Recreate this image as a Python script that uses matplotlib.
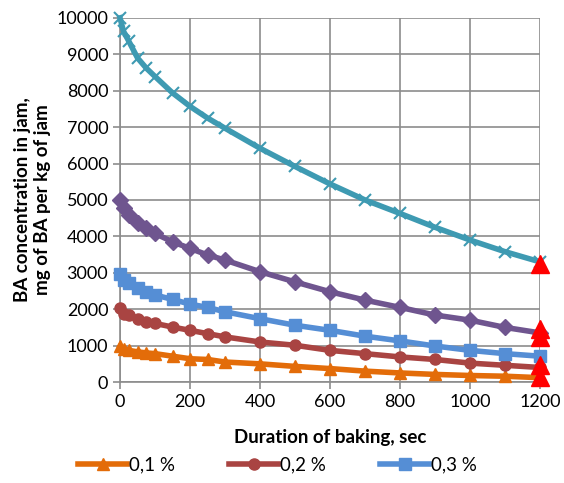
import matplotlib.pyplot as plt

# Baking time, sec
time_sec = [0, 10, 25, 50, 75, 100, 150, 200, 250, 300, 400, 500,
            600, 700, 800, 900, 1000, 1100, 1200]

# BA concentration, mg per kg of jam
conc_01 = [980, 920, 870, 830, 800, 780, 710, 640, 620, 550, 500, 430,
           370, 300, 250, 210, 180, 160, 120]
conc_02 = [2020, 1880, 1840, 1740, 1650, 1610, 1510, 1420, 1330, 1240, 1100, 1010,
           870, 780, 690, 620, 520, 460, 400]
conc_03 = [2980, 2800, 2710, 2570, 2480, 2390, 2270, 2140, 2050, 1930, 1740, 1560,
           1420, 1260, 1130, 990, 870, 780, 710]
conc_05 = [5000, 4770, 4590, 4360, 4220, 4080, 3850, 3670, 3490, 3350, 3030, 2750,
           2480, 2250, 2050, 1840, 1700, 1500, 1350]
conc_10 = [10000, 9630, 9360, 8900, 8620, 8390, 7940, 7570, 7250, 6970, 6420, 5920,
           5440, 5000, 4630, 4250, 3900, 3580, 3300]

# red triangles at the end of baking
end_time = [1200, 1200, 1200, 1200, 1200]
end_conc = [3250, 1450, 1250, 480, 140]

legend_labels = ['0,1 %', '0,2 %', '0,3 %']

plt.rcParams['font.family'] = ['Lato', 'DejaVu Sans']

fig = plt.figure(figsize=(5.64, 4.83), dpi=100)
ax = fig.add_axes([0.2128, 0.209, 0.7446, 0.754])

lw = 4
ax.plot(time_sec, conc_01, color='#E36C09', lw=lw, marker='^', ms=8,
        label=legend_labels[0], clip_on=False, zorder=3)
ax.plot(time_sec, conc_02, color='#A94442', lw=lw, marker='o', ms=8,
        label=legend_labels[1], clip_on=False, zorder=3)
ax.plot(time_sec, conc_03, color='#558ED5', lw=lw, marker='s', ms=8,
        label=legend_labels[2], clip_on=False, zorder=3)
ax.plot(time_sec, conc_05, color='#6F558F', lw=lw, marker='D', ms=8,
        clip_on=False, zorder=3)
ax.plot(time_sec, conc_10, color='#3E9AB2', lw=lw, marker='x', ms=8, mew=1.5,
        clip_on=False, zorder=3)
ax.plot(end_time, end_conc, ls='none', marker='^', ms=13, color='#FF0000',
        clip_on=False, zorder=4)

ax.set_xlim(0, 1200)
ax.set_ylim(0, 10000)
ax.set_xticks(range(0, 1201, 200))
ax.set_yticks(range(0, 10001, 1000))
ax.grid(True, color='#8C8C8C', lw=1.2)
ax.set_axisbelow(True)
for side in ['top', 'right']:
    ax.spines[side].set_visible(False)
for side in ['left', 'bottom']:
    ax.spines[side].set_color('#8C8C8C')
    ax.spines[side].set_linewidth(1.2)
ax.tick_params(colors='#8C8C8C', labelcolor='black', labelsize=13,
               length=5, width=1.2)

ax.set_xlabel('Duration of baking, sec', fontsize=13.5, fontweight='bold',
              labelpad=14)
ax.set_ylabel('BA concentration in jam,\nmg of BA per kg of jam', fontsize=13.5,
              fontweight='bold', labelpad=4)

ax.legend(loc='center', bbox_to_anchor=(0.375, -0.228), ncol=3, frameon=False,
          fontsize=13.5, handlelength=2.6, columnspacing=2.9, handletextpad=0.1)

fig.savefig('out.png', dpi=100)
